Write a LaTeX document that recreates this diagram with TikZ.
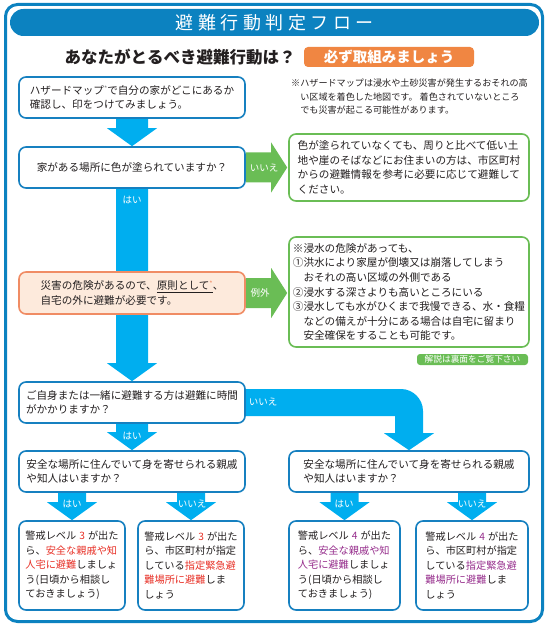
\documentclass[tikz,border=0pt]{standalone}
\usepackage{fontspec}
\setmainfont{Noto Sans CJK JP}
\usepackage{xcolor}
\usepackage{tikz}
\usetikzlibrary{calc,backgrounds}

\definecolor{frameblue}{RGB}{12,130,192}
\definecolor{boxblue}{RGB}{22,128,192}
\definecolor{flowblue}{RGB}{0,174,239}
\definecolor{flowgreen}{RGB}{106,189,85}
\definecolor{badgeorange}{RGB}{240,134,66}
\definecolor{oline}{RGB}{240,140,100}
\definecolor{ofill}{RGB}{253,234,220}
\definecolor{alertred}{RGB}{232,48,38}
\definecolor{alertpurple}{RGB}{150,45,140}
\definecolor{textgray}{RGB}{35,31,32}

\newcommand{\bodyfont}{\fontsize{10.6pt}{14.6pt}\selectfont}
\newcommand{\smallbody}{\fontsize{10.2pt}{14.5pt}\selectfont}
\newcommand{\notefont}{\fontsize{9.1pt}{13.5pt}\selectfont}
\newcommand{\lblfont}{\fontsize{9.5pt}{10pt}\selectfont}
\newcommand{\titlefont}{\fontsize{18pt}{20pt}\selectfont\addfontfeature{LetterSpace=25}}
\newcommand{\subfont}{\fontsize{16.5pt}{18pt}\selectfont\bfseries}
\newcommand{\badgefont}{\fontsize{14.5pt}{16pt}\selectfont\bfseries}
\newcommand{\warnred}[1]{{\color{alertred}#1}}
\newcommand{\warnpurple}[1]{{\color{alertpurple}#1}}
\newcommand{\starmark}[1]{\raisebox{3pt}{\fontsize{7pt}{7pt}\selectfont\color{#1}*}}

% down block arrow: from, to, half shaft width
\newcommand{\vflow}[3]{%
  \fill[flowblue] let \p1=(#1.south), \p2=(#2.north) in
    (\x2-#3,\y1) -- (\x2+#3,\y1) -- (\x2+#3,\y2+18pt) -- (\x2+25pt,\y2+18pt)
    -- (\x2,\y2) -- (\x2-25pt,\y2+18pt) -- (\x2-#3,\y2+18pt) -- cycle;}
% right block arrow (green)
\newcommand{\hflow}[2]{%
  \fill[flowgreen] let \p1=(#1.east), \p2=(#2.west) in
    (\x1,\y1+15pt) -- (\x2-17pt,\y1+15pt) -- (\x2-17pt,\y1+25pt) -- (\x2-1pt,\y1)
    -- (\x2-17pt,\y1-25pt) -- (\x2-17pt,\y1-15pt) -- (\x1,\y1-15pt) -- cycle;}

\begin{document}
\begin{tikzpicture}[x=1pt,y=-1pt,
    every node/.style={inner sep=0pt, text=textgray},
    qbox/.style={draw=boxblue, line width=1.6pt, rounded corners=7pt, fill=white,
      align=left, font=\bodyfont},
    gbox/.style={qbox, draw=flowgreen},
    obox/.style={qbox, draw=oline, fill=ofill},
    lvbox/.style={qbox, font=\smallbody, minimum height=89pt},
    lbl/.style={text=white, font=\lblfont}]
    \useasboundingbox (0,0) rectangle (555,628);

    % heading
    \node[fill=frameblue, rounded corners=13.5pt, minimum width=529pt, minimum height=27pt,
      text=white, font=\titlefont] (title) at (274.5,22.5) {避難行動判定フロー};
    \node[font=\subfont] (question) at (180,57) {あなたがとるべき避難行動は？};
    \node[fill=badgeorange, rounded corners=4pt, minimum width=170pt, minimum height=20pt,
      text=white, font=\badgefont] (must) at (389,57) {必ず取組みましょう};

    % hazard map
    \node[qbox, minimum width=226pt, minimum height=41pt] (map) at (132,97.5)
      {ハザードマップ\starmark{gray}で自分の家がどこにあるか\\確認し、印をつけてみましょう。};
    \node[anchor=west, align=left, font=\notefont] (note) at (291,97)
      {※ハザードマップは浸水や土砂災害が発生するおそれの高\\　い区域を着色した地図です。 着色されていないところ\\　でも災害が起こる可能性があります。};

    \node[qbox, minimum width=226pt, minimum height=41pt] (painted) at (132,167.5)
      {家がある場所に色が塗られていますか？};
    \node[gbox, minimum width=240pt, minimum height=67pt] (notpainted) at (409,167.5)
      {色が塗られていなくても、周りと比べて低い土\\地や崖のそばなどにお住まいの方は、市区町村\\からの避難情報を参考に必要に応じて避難して\\ください。};

    % principle / exception
    \node[obox, minimum width=226pt, minimum height=42pt] (principle) at (132,293)
      {災害の危険があるので、\underline{原則として\starmark{oline}}、\\自宅の外に避難が必要です。};
    \node[gbox, minimum width=240pt, minimum height=110pt] (exception) at (409,292)
      {※浸水の危険があっても、\\①洪水により家屋が倒壊又は崩落してしまう\\　おそれの高い区域の外側である\\②浸水する深さよりも高いところにいる\\③浸水しても水がひくまで我慢できる、水・食糧\\　などの備えが十分にある場合は自宅に留まり\\　安全確保をすることも可能です。};
    \node[fill=flowgreen, rounded corners=3pt, minimum width=111pt, minimum height=11pt,
      text=white, font=\fontsize{8.7pt}{9pt}\selectfont] (explain) at (472.5,359.5) {解説は裏面をご覧下さい};

    % time needed?
    \node[qbox, minimum width=226pt, minimum height=41pt] (slow) at (132,402.5)
      {ご自身または一緒に避難する方は避難に時間\\がかかりますか？};
    \node[qbox, minimum width=226pt, minimum height=41pt] (kinL) at (132,471.5)
      {安全な場所に住んでいて身を寄せられる親戚\\や知人はいますか？};
    \node[qbox, minimum width=240pt, minimum height=41pt] (kinR) at (409,471.5)
      {安全な場所に住んでいて身を寄せられる親戚\\や知人はいますか？};

    % level 3 / level 4
    \node[lvbox, minimum width=106pt] (lvthreekin) at (72,565.5)
      {警戒レベル\hspace{3pt}\warnred{3}\hspace{3pt}が出た\\ら、\warnred{安全な親戚や知}\\\warnred{人宅に避難}しましょ\\う(日頃から相談し\\ておきましょう)};
    \node[lvbox, minimum width=106pt] (lvthreeshelter) at (191,565.5)
      {警戒レベル\hspace{3pt}\warnred{3}\hspace{3pt}が出た\\ら、市区町村が指定\\している\warnred{指定緊急避}\\\warnred{難場所に避難}しま\\しょう};
    \node[lvbox, minimum width=111pt] (lvfourkin) at (344.5,565.5)
      {警戒レベル\hspace{3pt}\warnpurple{4}\hspace{3pt}が出た\\ら、\warnpurple{安全な親戚や知}\\\warnpurple{人宅に避難}しましょ\\う(日頃から相談し\\ておきましょう)};
    \node[lvbox, minimum width=112pt] (lvfourshelter) at (472,565.5)
      {警戒レベル\hspace{3pt}\warnpurple{4}\hspace{3pt}が出た\\ら、市区町村が指定\\している\warnpurple{指定緊急避}\\\warnpurple{難場所に避難}しま\\しょう};

    % arrows behind the boxes
    \begin{scope}[on background layer]
    \draw[frameblue, line width=3pt, rounded corners=12pt] (5.5,4.5) rectangle (542.5,621.5);
    \vflow{map}{painted}{16pt}
    \vflow{painted}{slow}{16pt}
    \vflow{slow}{kinL}{16pt}
    \vflow{kinL}{lvthreekin}{14pt}
    \vflow{kinL}{lvthreeshelter}{14pt}
    \vflow{kinR}{lvfourkin}{14pt}
    \vflow{kinR}{lvfourshelter}{14pt}
    \hflow{painted}{notpainted}
    \hflow{principle}{exception}
    % no: turn right and down
    \fill[flowblue] let \p1=(slow.east), \p2=(kinR.north) in
      (\x1,\y1+13.5pt) -- (\x2-8pt,\y1+13.5pt)
      .. controls (\x2+4pt,\y1+13.5pt) and (\x2+14pt,\y1+3.5pt) .. (\x2+14pt,\y1-8.5pt)
      -- (\x2+14pt,\y2+17pt) -- (\x2+25pt,\y2+17pt) -- (\x2,\y2) -- (\x2-25pt,\y2+17pt)
      -- (\x2-14pt,\y2+17pt) -- (\x2-14pt,\y1-13.5pt) -- (\x1,\y1-13.5pt) -- cycle;
    \end{scope}

    % arrow labels
    \node[lbl] (noone) at (264,167.5) {いいえ};
    \node[lbl] (yesone) at (132,200) {はい};
    \node[lbl] (except) at (260,293) {例外};
    \node[lbl] (notwo) at (263,402) {いいえ};
    \node[lbl] (yestwo) at (132,436) {はい};
    \node[lbl] (yesL) at (72,504) {はい};
    \node[lbl] (noL) at (192,504) {いいえ};
    \node[lbl] (yesR) at (344,504) {はい};
    \node[lbl] (noR) at (472,504) {いいえ};
\end{tikzpicture}
\end{document}
